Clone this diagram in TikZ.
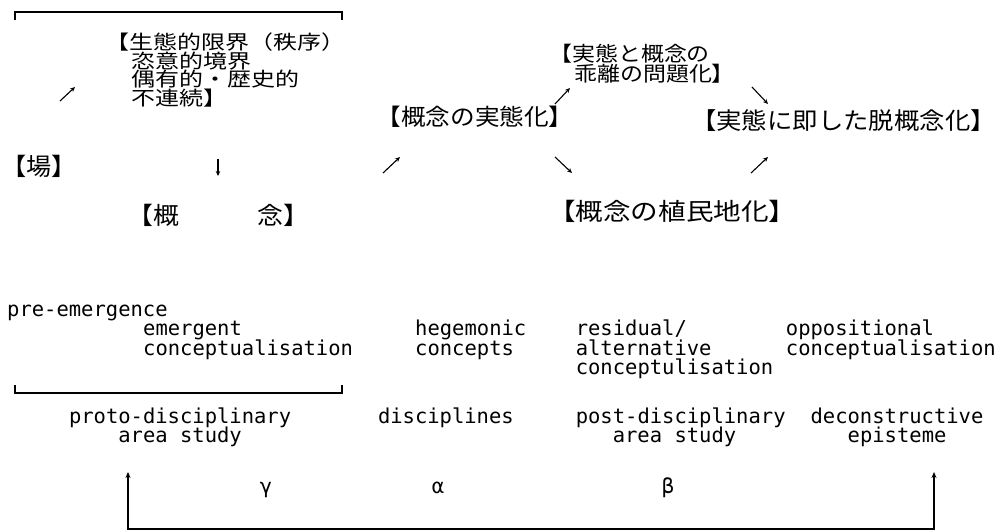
\documentclass[tikz,border=0pt]{standalone}
\usepackage{fontspec}
\setmainfont{DejaVu Sans Mono}
\newfontfamily\jpfont{Noto Sans CJK JP}
\newfontfamily\monofnt{DejaVu Sans Mono}
\usetikzlibrary{arrows.meta}
\begin{document}
\begin{tikzpicture}[x=1pt,y=-1pt,
  lat/.style={font=\monofnt\fontsize{20.5}{20}\selectfont, anchor=base west, inner sep=0pt},
  jp/.style 2 args={font=\jpfont\addfontfeature{FakeStretch=#2}\fontsize{#1}{#1}\selectfont, anchor=west, inner sep=0pt},
  jpblock/.style n args={3}{font=\jpfont\addfontfeature{FakeStretch=#2}\fontsize{#1}{#3}\selectfont, anchor=north west, inner sep=0pt, align=left},
  garr/.style={-{Stealth[length=5pt,width=4.5pt]}, line width=1.1pt},
  brk/.style={line width=1.3pt},
  conn/.style={{Stealth[length=6pt,width=5pt]}-{Stealth[length=6pt,width=5pt]}, line width=1.1pt}]
\useasboundingbox (0,0) rectangle (996,532);
\fill[white] (0,0) rectangle (996,532);

% top bracket
\coordinate (tb1) at (15,20); \coordinate (tb2) at (15,12);
\coordinate (tb3) at (342,12); \coordinate (tb4) at (342,20);
\draw[brk] (tb1) -- (tb2) -- (tb3) -- (tb4);

% Japanese labels
\node[jpblock={19.5}{1.23}{18.5}] (limit) at (105,33) {【生態的限界（秩序）\\\hspace*{26pt}恣意的境界\\\hspace*{26pt}偶有的・歴史的\\\hspace*{26pt}不連続】};
\node[jpblock={20.5}{1.12}{19}] (gap) at (549,44) {【実態と概念の\\\hspace*{25pt}乖離の問題化】};
\node[jp={23}{1.07}] (real) at (376.5,117) {【概念の実態化】};
\node[jp={23.5}{1.08}] (deconc) at (691,121) {【実態に即した脱概念化】};
\node[jp={24}{1.05}] (ba) at (1,166) {【場】};
\node[jp={24}{1.08}] (gainen) at (127.7,215) {【概　　　念】};
\node[jp={24}{1.15}] (colon) at (547.8,211) {【概念の植民地化】};

% glyph-like arrows
\coordinate (a1s) at (60,101); \coordinate (a1e) at (75,87);
\draw[garr] (a1s) -- (a1e);
\coordinate (a2s) at (218,159); \coordinate (a2e) at (218,176);
\draw[garr] (a2s) -- (a2e);
\coordinate (a3s) at (383,173); \coordinate (a3e) at (400,157);
\draw[garr] (a3s) -- (a3e);
\coordinate (a4s) at (555,104); \coordinate (a4e) at (570,88);
\draw[garr] (a4s) -- (a4e);
\coordinate (a5s) at (555,157); \coordinate (a5e) at (572,173);
\draw[garr] (a5s) -- (a5e);
\coordinate (a6s) at (752,87); \coordinate (a6e) at (768,104);
\draw[garr] (a6s) -- (a6e);
\coordinate (a7s) at (751,173); \coordinate (a7e) at (768,157);
\draw[garr] (a7s) -- (a7e);

% English labels
\node[lat] (pre) at (7,316) {pre-emergence};
\node[lat] (emg1) at (143,335.5) {emergent};
\node[lat] (emg2) at (143,355) {conceptualisation};
\node[lat] (heg1) at (415,335.5) {hegemonic};
\node[lat] (heg2) at (415,355) {concepts};
\node[lat] (res1) at (575.6,335.5) {residual/};
\node[lat] (res2) at (575.6,355) {alternative};
\node[lat] (res3) at (575.6,374.5) {conceptulisation};
\node[lat] (opp1) at (785.7,335.5) {oppositional};
\node[lat] (opp2) at (785.7,355) {conceptualisation};

% lower bracket
\coordinate (lb1) at (15,385); \coordinate (lb2) at (15,393);
\coordinate (lb3) at (342,393); \coordinate (lb4) at (342,385);
\draw[brk] (lb1) -- (lb2) -- (lb3) -- (lb4);

\node[lat] (proto1) at (68.8,423) {proto-disciplinary};
\node[lat] (proto2) at (118.2,442) {area study};
\node[lat] (disc) at (377.8,423) {disciplines};
\node[lat] (post1) at (575.6,423) {post-disciplinary};
\node[lat] (post2) at (612.6,442) {area study};
\node[lat] (dec1) at (810.4,423) {deconstructive};
\node[lat] (dec2) at (847.5,442) {episteme};

\node[lat, anchor=base] (gam) at (266,493) {γ};
\node[lat, anchor=base] (alp) at (438,493) {α};
\node[lat, anchor=base] (bet) at (668,493) {β};

% bottom connector
\coordinate (cl) at (128,472); \coordinate (clb) at (128,529);
\coordinate (crb) at (934,529); \coordinate (cr) at (934,472);
\draw[conn] (cl) -- (clb) -- (crb) -- (cr);
\end{tikzpicture}
\end{document}
